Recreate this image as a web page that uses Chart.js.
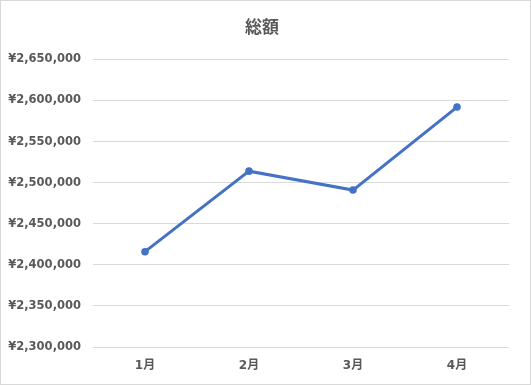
<!DOCTYPE html>
<html>
<head>
<meta charset="utf-8">
<script src="https://cdn.jsdelivr.net/npm/chart.js@4/dist/chart.umd.min.js"></script>
<style>
  body { margin: 0; background: #fff; }
  #wrap { position: relative; width: 531px; height: 385px; }
</style>
</head>
<body>
<div id="wrap"><canvas id="canvas"></canvas></div>
<script>
// 総額 per month
var months = ['1月', '2月', '3月', '4月'];
var totals = [2416000, 2514000, 2491000, 2592000];
var yMin = 2300000;
var yMax = 2650000;
var yStep = 50000;

var textColor = '#595959';
var fontFamily = '"DejaVu Sans", "Noto Sans CJK JP", sans-serif';

// light gray frame around the whole chart, like the Excel chart area
var framePlugin = {
    id: 'frame',
    afterLayout: function(chart) {
        // Excel centres the title a bit more to the right
        if (chart.titleBlock) chart.titleBlock.left = 15;
    },
    afterDraw: function(chart) {
        var c = chart.ctx;
        c.save();
        c.strokeStyle = '#d9d9d9';
        c.lineWidth = 1;
        c.strokeRect(0.5, 0.5, chart.width - 1, chart.height - 1);
        c.restore();
    }
};

var ctx = document.getElementById('canvas').getContext('2d');
var myChart = new Chart(ctx, {
    type: 'line',
    data: {
        labels: months,
        datasets: [{
            label: '総額',
            data: totals,
            borderColor: '#4472C4',
            backgroundColor: '#4472C4',
            borderWidth: 3,
            pointRadius: 3.8,
            pointBorderWidth: 0,
            tension: 0,
            fill: false
        }]
    },
    options: {
        responsive: true,
        maintainAspectRatio: false,
        animation: false,
        layout: { padding: { left: 0, right: 22, top: 0, bottom: 0 } },
        plugins: {
            legend: { display: false },
            tooltip: { enabled: false },
            title: {
                display: true,
                text: '総額',
                color: textColor,
                font: { family: '"Noto Sans CJK JP", sans-serif', size: 17, weight: 'bold', lineHeight: 1.2 },
                padding: { top: 16, bottom: 23 }
            }
        },
        scales: {
            x: {
                offset: true,
                grid: { display: false, drawTicks: false },
                border: { display: false },
                ticks: {
                    color: textColor,
                    padding: 12,
                    font: { family: fontFamily, size: 12, weight: 'bold' }
                },
                afterFit: function(scale) { scale.height = 38; }
            },
            y: {
                min: yMin,
                max: yMax,
                grid: { color: '#d9d9d9', drawTicks: false, lineWidth: 1 },
                border: { display: false },
                ticks: {
                    stepSize: yStep,
                    color: textColor,
                    padding: 12,
                    font: { family: fontFamily, size: 11.5, weight: 'bold' },
                    callback: function(v) { return '¥' + v.toLocaleString('en-US'); }
                },
                afterFit: function(scale) { scale.width = 93; }
            }
        }
    },
    plugins: [framePlugin]
});
</script>
</body>
</html>
